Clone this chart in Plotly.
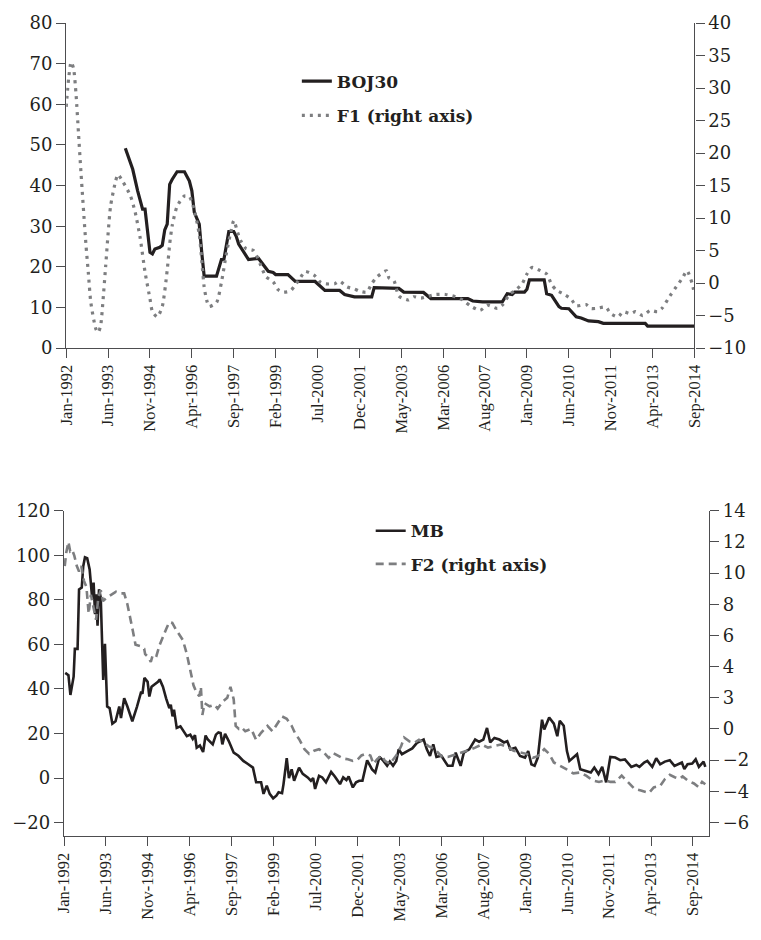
import plotly.graph_objects as go

# ---------------- data ----------------
# month index t = months since Jan-1992 on the chart's category axis
tick_t = [0, 17, 34, 51, 68, 85, 102, 119, 136, 153, 170, 187, 204, 221, 238, 255]
tick_labels = ["Jan-1992", "Jun-1993", "Nov-1994", "Apr-1996", "Sep-1997", "Feb-1999",
               "Jul-2000", "Dec-2001", "May-2003", "Mar-2006", "Aug-2007", "Jan-2009",
               "Jun-2010", "Nov-2011", "Apr-2013", "Sep-2014"]

# Top panel: BOJ30 (left axis) and F1 (right axis)
boj30_t = [24, 27, 29, 30, 31, 32, 33, 34, 35, 36, 38, 39, 40, 41, 42, 43, 45, 48, 50, 51, 52, 53,
           54, 55, 56, 61, 63, 64, 66, 68, 69, 70, 72, 74, 78, 82, 84, 85, 90, 93, 101, 105, 111,
           113, 117, 124, 125, 135, 137, 145, 148, 163, 165, 169, 177, 179, 181, 182, 186, 187,
           188, 194, 195, 197, 200, 201, 204, 207, 209, 210, 212, 216, 218, 235, 236, 255]
boj30_v = [49.2, 44.0, 38.7, 36.2, 34.2, 34.2, 28.5, 23.6, 23.2, 24.4, 24.8, 25.3, 29.1, 30.5,
           40.3, 41.5, 43.4, 43.4, 41.1, 38.7, 33.4, 31.7, 30.5, 23.6, 17.7, 17.7, 21.8, 21.8,
           28.7, 28.7, 27.5, 25.6, 23.6, 21.8, 22.1, 18.9, 18.6, 18.1, 18.1, 16.4, 16.4, 14.2,
           14.2, 13.2, 12.6, 12.6, 14.9, 14.7, 13.8, 13.7, 12.2, 12.2, 11.6, 11.4, 11.4, 13.4,
           13.2, 13.8, 13.8, 14.5, 16.8, 16.8, 13.4, 13.0, 10.2, 9.8, 9.7, 7.7, 7.4, 7.1, 6.7,
           6.5, 6.1, 6.1, 5.4, 5.4]

f1_t = [0, 1, 2, 3, 4, 5, 6, 8, 9, 10, 12, 13, 14, 15, 16, 18, 20, 21, 23, 26, 28, 30, 32, 34,
        35, 37, 39, 41, 42, 43, 45, 48, 50, 52, 54, 56, 57, 58, 61, 63, 65, 67, 68, 70, 71, 73,
        76, 79, 81, 84, 86, 88, 91, 93, 95, 97, 101, 103, 105, 109, 111, 114, 117, 119, 122,
        124, 126, 130, 131, 133, 135, 139, 141, 144, 150, 154, 158, 161, 164, 168, 171, 175,
        177, 180, 182, 185, 187, 189, 192, 195, 197, 199, 202, 205, 207, 211, 213, 215, 219,
        221, 224, 226, 229, 231, 234, 237, 240, 242, 245, 247, 250, 252, 254, 255]
f1_v = [27.1, 31.5, 34.0, 33.0, 29.0, 23.0, 17.0, 6.0, 1.5, -3.0, -7.0, -7.6, -6.5, -2.4, 2.5,
        11.8, 15.6, 16.7, 15.6, 13.5, 10.9, 7.0, 1.7, -2.4, -4.4, -5.2, -3.6, 2.0, 6.0, 8.8,
        11.8, 13.4, 13.3, 11.2, 7.5, -0.6, -2.6, -3.6, -3.0, 0.1, 4.5, 8.2, 9.6, 7.3, 6.4, 5.3,
        5.0, 2.7, 1.0, 0.2, -1.0, -1.4, -1.2, -0.3, 0.8, 1.8, 1.1, 0.2, -0.1, -0.1, 0.3, -0.6,
        -0.9, -1.25, -1.4, -0.1, 0.9, 1.9, 0.8, 0.4, -2.0, -2.6, -2.1, -2.3, -1.75, -1.75, -2.1,
        -2.6, -3.5, -4.2, -3.4, -3.9, -3.4, -1.7, -1.2, -0.15, 1.4, 2.4, 2.0, 1.4, -0.2, -1.1,
        -1.7, -2.5, -3.5, -3.3, -3.9, -3.9, -3.7, -4.7, -5.2, -4.4, -4.7, -4.4, -5.0, -4.2,
        -4.4, -3.8, -2.0, -0.9, 0.7, 1.9, 0.0, -1.7]

# Bottom panel: MB (left axis) and F2 (right axis)
mb_t = [0.5, 1.8, 2.6, 3.9, 4.4, 5.5, 6.1, 7.2, 7.8, 8.5, 9.4, 10.4, 11.4, 12.0, 12.6, 13.0, 13.6,
        14.2, 14.9, 15.9, 16.6, 17.5, 18.5, 19.6, 20.9, 22.4, 23.1, 24.4, 25.7, 27.7, 29.6, 31.3,
        31.8, 32.6, 33.9, 34.6, 35.5, 38.1, 38.8, 40.1, 41.4, 42.7, 43.3, 44.0, 44.6, 45.7, 47.2,
        49.2, 49.8, 51.2, 52.2, 53.1, 53.8, 55.1, 56.4, 57.4, 58.3, 60.3, 61.6, 62.6, 63.5, 64.2,
        65.3, 66.8, 68.8, 70.7, 72.7, 74.7, 76.6, 77.9, 79.9, 80.9, 82.2, 83.4, 84.8, 86.1, 87.0,
        88.4, 89.0, 90.3, 91.2, 92.3, 93.3, 95.3, 96.8, 98.8, 100.1, 101.0, 101.8, 103.4, 104.7,
        106.2, 108.3, 109.8, 111.9, 113.2, 114.5, 115.4, 117.1, 118.4, 119.7, 121.0, 122.9,
        124.9, 126.2, 127.9, 129.5, 131.0, 132.1, 133.4, 134.7, 135.7, 137.0, 139.2, 141.2,
        143.1, 144.4, 145.8, 147.1, 148.4, 149.7, 151.0, 153.0, 155.6, 157.5, 158.8, 160.8,
        162.1, 164.3, 166.7, 168.3, 170.0, 171.5, 172.8, 174.5, 176.5, 178.4, 179.7, 181.0,
        183.0, 184.9, 186.9, 188.2, 189.5, 190.8, 192.1, 193.8, 194.7, 196.7, 198.6, 200.0,
        201.0, 202.6, 203.9, 204.9, 206.5, 208.0, 209.3, 211.7, 213.6, 215.0, 216.7, 218.2,
        219.8, 221.5, 223.5, 225.5, 227.4, 230.0, 232.0, 233.3, 235.2, 236.5, 238.5, 240.1,
        241.7, 243.6, 245.6, 247.5, 248.8, 250.5, 251.5, 252.8, 254.7, 256.1, 257.4, 259.3, 260.0]
mb_v = [47.2, 46.2, 37.3, 45.5, 58.0, 58.0, 84.7, 85.5, 95.1, 99.1, 98.7, 93.6, 81.0, 87.7, 73.6,
        82.5, 68.4, 84.7, 81.0, 44.0, 60.3, 32.1, 31.4, 24.4, 25.5, 32.1, 26.9, 35.8, 32.1, 25.5,
        32.1, 38.8, 37.8, 45.0, 43.2, 36.6, 41.0, 43.2, 44.3, 41.0, 35.8, 31.4, 32.9, 27.7, 30.7,
        22.5, 23.2, 20.0, 18.8, 19.5, 17.6, 19.2, 13.6, 14.6, 11.7, 19.1, 17.3, 15.1, 19.5, 20.5,
        20.2, 15.1, 19.9, 16.6, 11.4, 10.0, 7.7, 6.2, 4.7, -1.9, -1.9, -7.1, -3.4, -7.1, -9.1,
        -7.9, -6.4, -6.8, -2.7, 8.9, 0.0, 3.9, -1.2, 4.7, 1.9, 0.3, -1.2, 0.0, -4.9, 1.0, 0.3,
        -1.9, 2.8, 0.7, -2.7, 0.3, -0.9, 0.7, -4.2, -1.9, -1.2, -1.2, 8.0, 3.9, 2.5, 9.5, 7.7,
        5.5, 7.4, 5.5, 7.7, 12.9, 10.7, 12.1, 13.3, 15.8, 16.6, 17.3, 12.9, 9.9, 15.1, 9.5, 10.0,
        5.5, 5.5, 11.4, 5.5, 11.4, 12.9, 17.3, 16.3, 17.3, 22.5, 16.0, 18.0, 17.3, 16.0, 16.6,
        12.9, 13.6, 9.9, 9.2, 12.1, 6.2, 5.5, 9.2, 26.2, 21.8, 27.2, 24.4, 18.8, 25.7, 23.5,
        12.1, 7.7, 9.2, 10.7, 4.0, 3.2, 2.5, 4.7, 1.8, 5.0, -1.9, 9.5, 9.2, 8.0, 8.4, 5.0, 5.9,
        5.0, 7.0, 7.7, 5.0, 8.9, 6.2, 7.4, 8.0, 5.5, 6.2, 7.0, 4.0, 6.2, 6.5, 8.4, 5.0, 7.4, 5.0]

f2_t = [0.3, 0.9, 1.8, 2.5, 3.3, 4.2, 5.2, 6.1, 7.0, 8.1, 9.1, 10.0, 10.9, 12.0, 13.0, 13.9, 14.9,
        15.8, 17.1, 19.1, 21.1, 23.0, 24.4, 25.7, 27.0, 27.9, 29.0, 31.2, 32.5, 32.9, 34.2, 35.2,
        36.1, 37.5, 38.8, 40.0, 41.4, 42.7, 43.9, 45.3, 47.2, 48.2, 49.8, 51.2, 52.5, 53.8, 54.9,
        55.5, 56.1, 57.0, 59.0, 61.0, 62.3, 64.3, 66.2, 67.5, 68.8, 69.6, 70.9, 72.0, 73.5, 75.9,
        77.9, 79.9, 82.5, 84.5, 86.4, 88.4, 90.3, 92.3, 93.6, 95.5, 97.5, 99.4, 101.4, 103.4,
        105.3, 107.3, 109.2, 111.2, 113.2, 115.1, 117.1, 119.1, 120.6, 122.3, 124.2, 125.5,
        126.9, 128.8, 130.1, 132.1, 133.4, 134.7, 136.7, 137.9, 140.0, 141.9, 143.9, 145.8,
        147.8, 150.4, 153.0, 155.6, 157.5, 159.5, 162.1, 164.3, 166.7, 169.3, 171.9, 174.5,
        177.1, 179.7, 182.3, 184.9, 187.5, 190.1, 192.1, 194.7, 196.7, 198.6, 201.2, 203.8,
        206.5, 209.1, 211.7, 214.3, 216.9, 219.5, 221.5, 223.5, 226.1, 228.7, 231.3, 233.9,
        237.2, 239.1, 241.7, 243.7, 245.6, 247.6, 249.5, 250.8, 252.8, 255.4, 257.4, 258.7, 260.0]
f2_v = [10.45, 11.3, 12.0, 11.4, 11.5, 11.1, 10.45, 10.1, 10.45, 9.5, 9.1, 7.4, 8.6, 7.8, 7.0, 8.4,
        8.9, 8.2, 8.4, 8.6, 8.8, 8.7, 8.7, 8.0, 6.85, 6.3, 5.4, 5.3, 5.15, 4.8, 4.6, 4.3, 4.8, 4.7,
        5.4, 5.9, 6.4, 6.85, 6.8, 6.4, 5.9, 5.7, 4.8, 3.8, 2.8, 2.3, 2.1, 2.7, 0.9, 1.65, 1.45,
        1.55, 1.3, 1.75, 2.0, 2.7, 1.9, 0.2, 0.0, 0.1, -0.15, 0.0, -0.7, -0.25, 0.2, -0.15, 0.3,
        0.8, 0.65, 0.2, -0.25, -0.7, -1.3, -1.6, -1.4, -1.3, -1.5, -1.85, -1.55, -1.7, -1.9,
        -1.95, -2.05, -1.95, -1.7, -1.6, -1.7, -2.25, -1.95, -1.7, -2.05, -2.25, -1.95, -1.7,
        -1.1, -0.55, -0.8, -0.9, -0.7, -0.9, -1.1, -1.3, -1.75, -1.8, -1.7, -1.6, -1.5, -1.35,
        -1.2, -1.0, -1.2, -1.1, -1.0, -1.15, -1.4, -1.5, -1.6, -1.85, -1.75, -1.3, -1.6, -2.15,
        -2.4, -2.6, -2.85, -2.8, -3.0, -3.3, -3.4, -3.3, -3.4, -3.4, -3.0, -3.4, -3.85, -3.95,
        -4.1, -3.75, -3.65, -3.2, -2.95, -3.1, -3.2, -3.05, -3.3, -3.5, -3.75, -3.4, -3.55]

top_left_ticks = [0, 10, 20, 30, 40, 50, 60, 70, 80]
top_right_ticks = [-10, -5, 0, 5, 10, 15, 20, 25, 30, 35, 40]
bot_left_ticks = [-20, 0, 20, 40, 60, 80, 100, 120]
bot_right_ticks = [-6, -4, -2, 0, 2, 4, 6, 8, 10, 12, 14]
bot_right_text = ["\u22126", "\u22124", "\u22122", "0", "3", "4", "6", "8", "10", "12", "14"]

# ---------------- style ----------------
FONT = "DejaVu Serif"
XFONT = "Liberation Serif"
INK = "#231f20"
AXIS = "#4d4d4f"
GREY = "#7d7e80"

fig = go.Figure()
fig.add_trace(go.Scatter(x=boj30_t, y=boj30_v, name="BOJ30", mode="lines",
                         line=dict(color=INK, width=3.2), xaxis="x", yaxis="y",
                         legend="legend", legendgroup="a"))
fig.add_trace(go.Scatter(x=f1_t, y=f1_v, name="F1 (right axis)", mode="lines",
                         line=dict(color=GREY, width=3.2, dash="3px,5px", shape="spline", smoothing=0.6),
                         xaxis="x", yaxis="y2", legend="legend", legendgroup="b"))
fig.add_trace(go.Scatter(x=mb_t, y=mb_v, name="MB", mode="lines",
                         line=dict(color=INK, width=2.6), xaxis="x2", yaxis="y3",
                         legend="legend2", legendgroup="c"))
fig.add_trace(go.Scatter(x=f2_t, y=f2_v, name="F2 (right axis)", mode="lines",
                         line=dict(color=GREY, width=2.6, dash="8px,5px"),
                         xaxis="x2", yaxis="y4", legend="legend2", legendgroup="d"))

tickfont = dict(family=FONT, size=18, color=INK)
xtickfont = dict(family=XFONT, size=16.5, color=INK)
common_x = dict(tickmode="array", tickvals=tick_t, ticktext=tick_labels, tickangle=-90,
                ticks="outside", ticklen=9, tickwidth=1.3, tickcolor=AXIS, showline=True,
                linecolor=AXIS, linewidth=1.3, showgrid=False, zeroline=False,
                tickfont=xtickfont)
common_y = dict(ticks="outside", ticklen=9, tickwidth=1.3, tickcolor=AXIS, showline=True,
                linecolor=AXIS, linewidth=1.3, showgrid=False, zeroline=False,
                tickfont=tickfont, tickmode="array")

legend_font = dict(family=FONT, size=17, color=INK, weight="bold")

fig.update_layout(
    width=761, height=940,
    margin=dict(l=56, r=37, t=15, b=104),
    paper_bgcolor="white", plot_bgcolor="white",
    font=dict(family=FONT, color=INK),
    xaxis=dict(domain=[0.0034, 0.9775], range=[0, 255], anchor="y", **common_x),
    yaxis=dict(domain=[0.6001, 1.0], range=[0, 80], anchor="x", tickvals=top_left_ticks, **common_y),
    yaxis2=dict(range=[-10, 40], overlaying="y", side="right", anchor="x",
                tickvals=top_right_ticks, **common_y),
    xaxis2=dict(domain=[0, 1], range=[0, 261.5], anchor="y3", **common_x),
    yaxis3=dict(domain=[0, 0.4001], range=[-26, 120], anchor="x2", tickvals=bot_left_ticks, **common_y),
    yaxis4=dict(range=[-6.87, 14], overlaying="y3", side="right", anchor="x2",
                tickvals=bot_right_ticks, ticktext=bot_right_text, **common_y),
    legend=dict(x=0.361, y=0.950, xanchor="left", yanchor="top", bgcolor="rgba(0,0,0,0)",
                traceorder="grouped", tracegroupgap=9, font=legend_font),
    legend2=dict(x=0.4755, y=0.397, xanchor="left", yanchor="top", bgcolor="rgba(0,0,0,0)",
                 traceorder="grouped", tracegroupgap=8, font=legend_font),
    showlegend=True,
)

fig.write_html("out.html")
